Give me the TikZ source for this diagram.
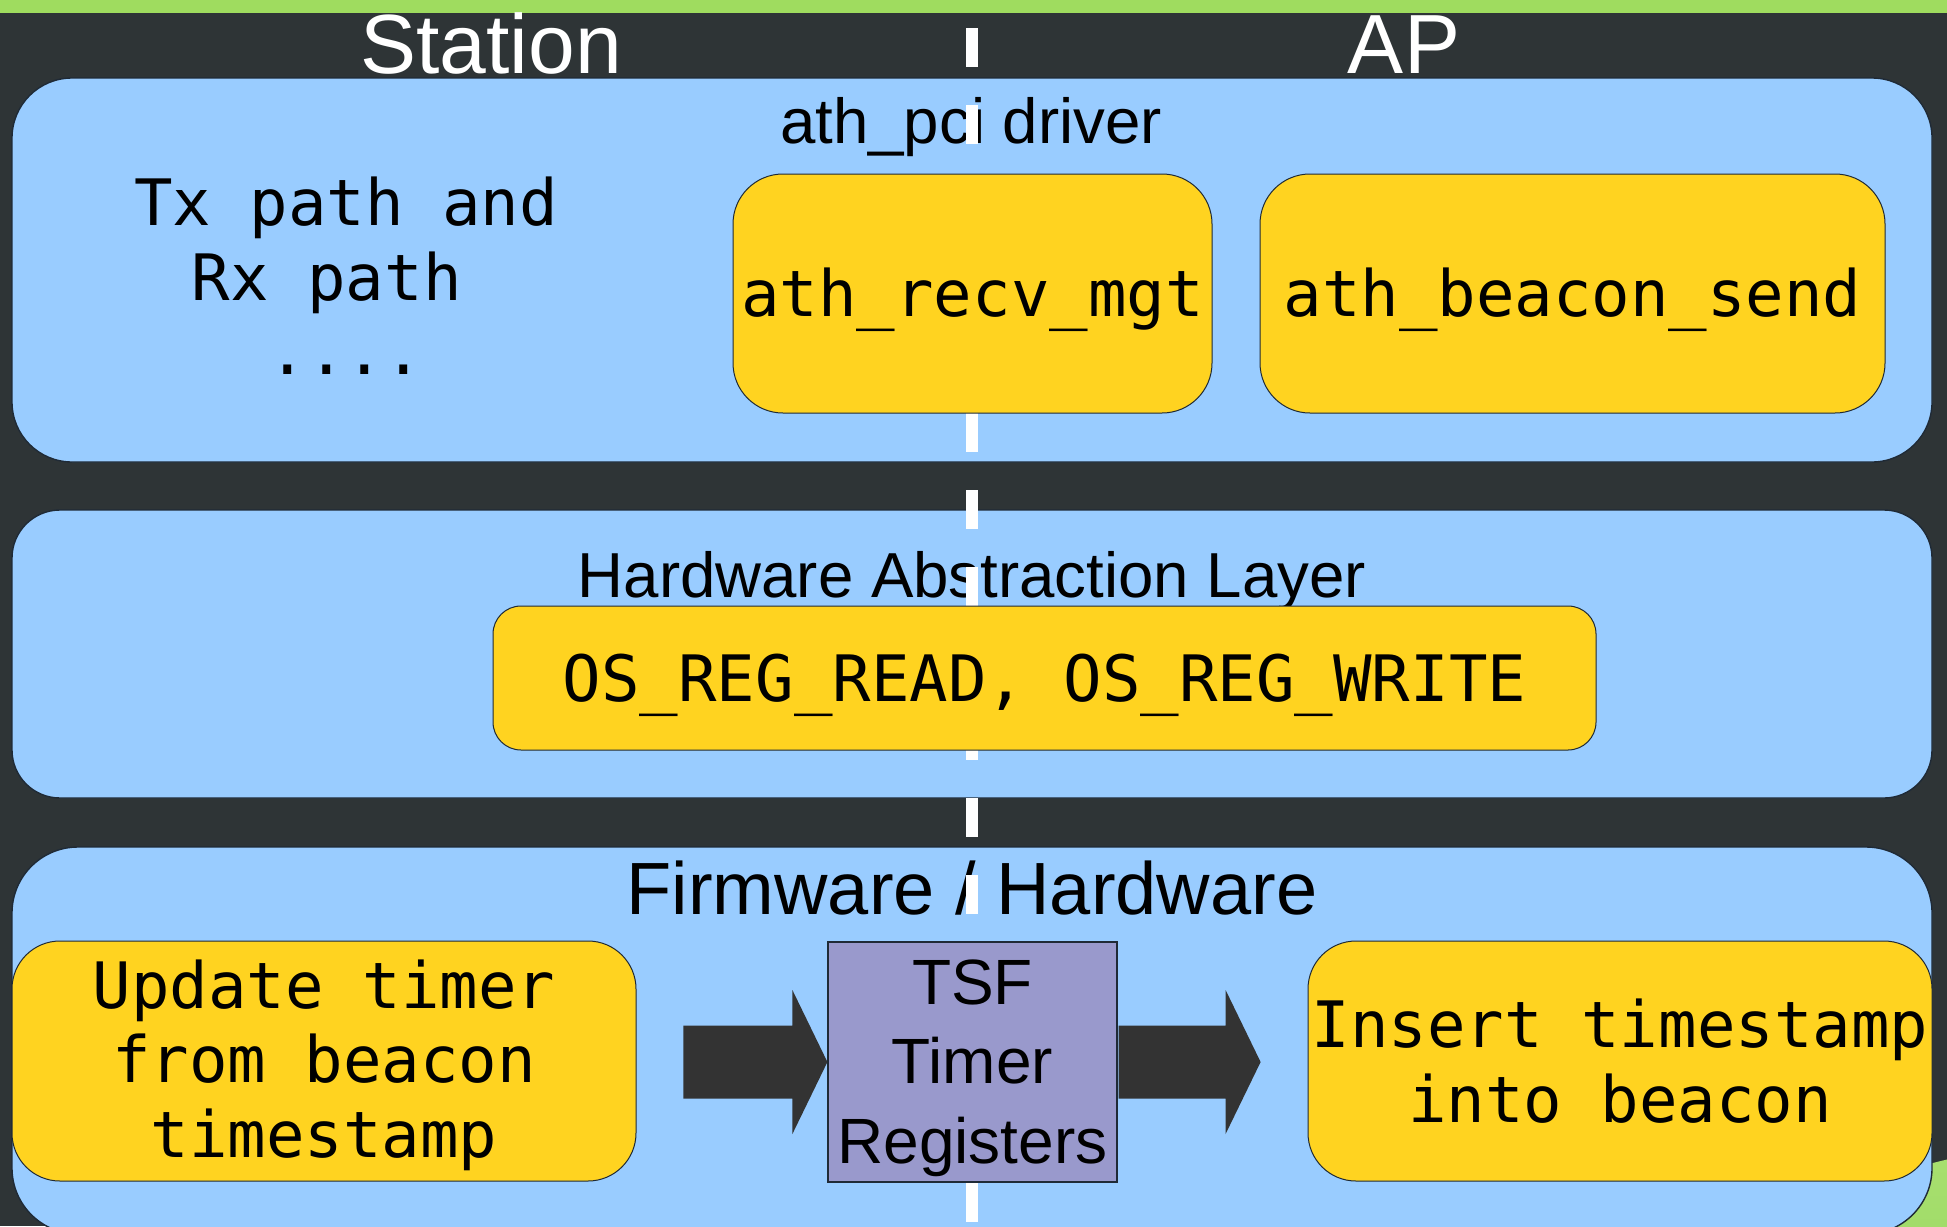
\documentclass[tikz,border=0pt]{standalone}
\usepackage{fontspec}
\setmainfont{Liberation Sans}
\newfontfamily\monof{DejaVu Sans Mono}
\usetikzlibrary{calc}
\definecolor{bgdark}{HTML}{2E3436}
\definecolor{topgreen}{HTML}{9FDC5F}
\definecolor{panelblue}{HTML}{99CCFF}
\definecolor{boxyellow}{HTML}{FFD320}
\definecolor{tsfpurple}{HTML}{9999CC}
\definecolor{arrowgrey}{HTML}{333333}
\definecolor{edgedark}{HTML}{1F2A36}
\begin{document}
\begin{tikzpicture}[x=0.5pt,y=-0.5pt,
  panel/.style={fill=panelblue, draw=edgedark, line width=0.7pt},
  hdr/.style={anchor=base, text=white, inner sep=0pt, font=\fontsize{42}{48}\selectfont},
  layertitle/.style={anchor=base, text=black, inner sep=0pt, font=\fontsize{31.8}{37}\selectfont},
  ybox/.style={fill=boxyellow, draw=edgedark, line width=0.5pt, inner sep=0pt,
    font=\monof\fontsize{32}{37.25}\selectfont},
  oneline/.style={text height=23pt, text depth=0pt},
  tsfbox/.style={fill=tsfpurple, draw=edgedark, line width=0.6pt, inner sep=0pt,
    font=\fontsize{32}{39.75}\selectfont},
  divider/.style={white, line width=6pt, dash pattern=on 19.5pt off 19pt},
  blockarrow/.style={fill=arrowgrey}
]
\useasboundingbox (0,0) rectangle (1947,1226);
\clip (0,0) rectangle (1947,1226);
% background
\fill[bgdark] (0,0) rectangle (1947,1226);
\fill[topgreen] (0,0) rectangle (1947,12.5);
\shade[top color=topgreen!90!white, bottom color=topgreen!70!green!80!black] (2050,1610) circle (462);
% layer panels
\draw[panel, rounded corners=30pt] (12,78) rectangle (1932,462);
\draw[panel, rounded corners=24pt] (12,510) rectangle (1932,798);
\draw[panel, rounded corners=33pt] (12,847) rectangle (1932,1234);
% headers
\node[hdr] (sta) at (491,73) {Station};
\node[hdr] (ap) at (1404,73) {AP};
% layer titles
\node[layertitle] (drv) at (971,143) {ath\_pci driver};
\node[layertitle] (hal) at (972,597) {Hardware Abstraction Layer};
\node[layertitle, font=\fontsize{37}{43}\selectfont] (fw) at (972,914) {Firmware / Hardware};
% divider
\coordinate (dtop) at (972,28);
\coordinate (dbot) at (972,1240);
\draw[divider] (dtop) -- (dbot);
% text in driver layer
\node[ybox, draw=none, fill=none, align=center] (txrx) at (346,276) {Tx path and\\Rx path\hphantom{x}\\....};
% boxes
\node[ybox, oneline, rounded corners=25pt, minimum width=239.5pt, minimum height=119.5pt] (recv) at (972.5,293.5) {ath\_recv\_mgt};
\node[ybox, oneline, rounded corners=25pt, minimum width=312.5pt, minimum height=119.5pt] (bsend) at (1572.5,293.5) {ath\_beacon\_send};
\node[ybox, oneline, rounded corners=14pt, minimum width=551.5pt, minimum height=72pt] (osreg) at (1044.5,678) {OS\_REG\_READ, OS\_REG\_WRITE};
\node[ybox, rounded corners=24pt, minimum width=312pt, minimum height=120pt] (upd) at (324,1061) {\raisebox{26.5pt}[0pt][0pt]{\parbox[t]{300pt}{\centering Update timer\\from beacon\\timestamp}}};
\node[ybox, align=center, rounded corners=24pt, minimum width=312pt, minimum height=120pt] (ins) at (1620,1061) {Insert timestamp\\into beacon};
\node[tsfbox, minimum width=144.5pt, minimum height=120pt] (tsf) at (972.5,1062) {\raisebox{29pt}[0pt][0pt]{\parbox[t]{140pt}{\centering TSF\\Timer\\Registers}}};
% block arrows
\fill[blockarrow] (tsf.west) -- ++(-35,-72) -- ++(0,35.5) -- ++(-109,0) -- ++(0,73) -- ++(109,0) -- ++(0,35.5) -- cycle;
\coordinate (rtip) at ($(tsf.east)+(143,0)$);
\fill[blockarrow] (rtip) -- ++(-35,-72) -- ++(0,35.5) -- ++(-107,0) -- ++(0,73) -- ++(107,0) -- ++(0,35.5) -- cycle;
\end{tikzpicture}
\end{document}
